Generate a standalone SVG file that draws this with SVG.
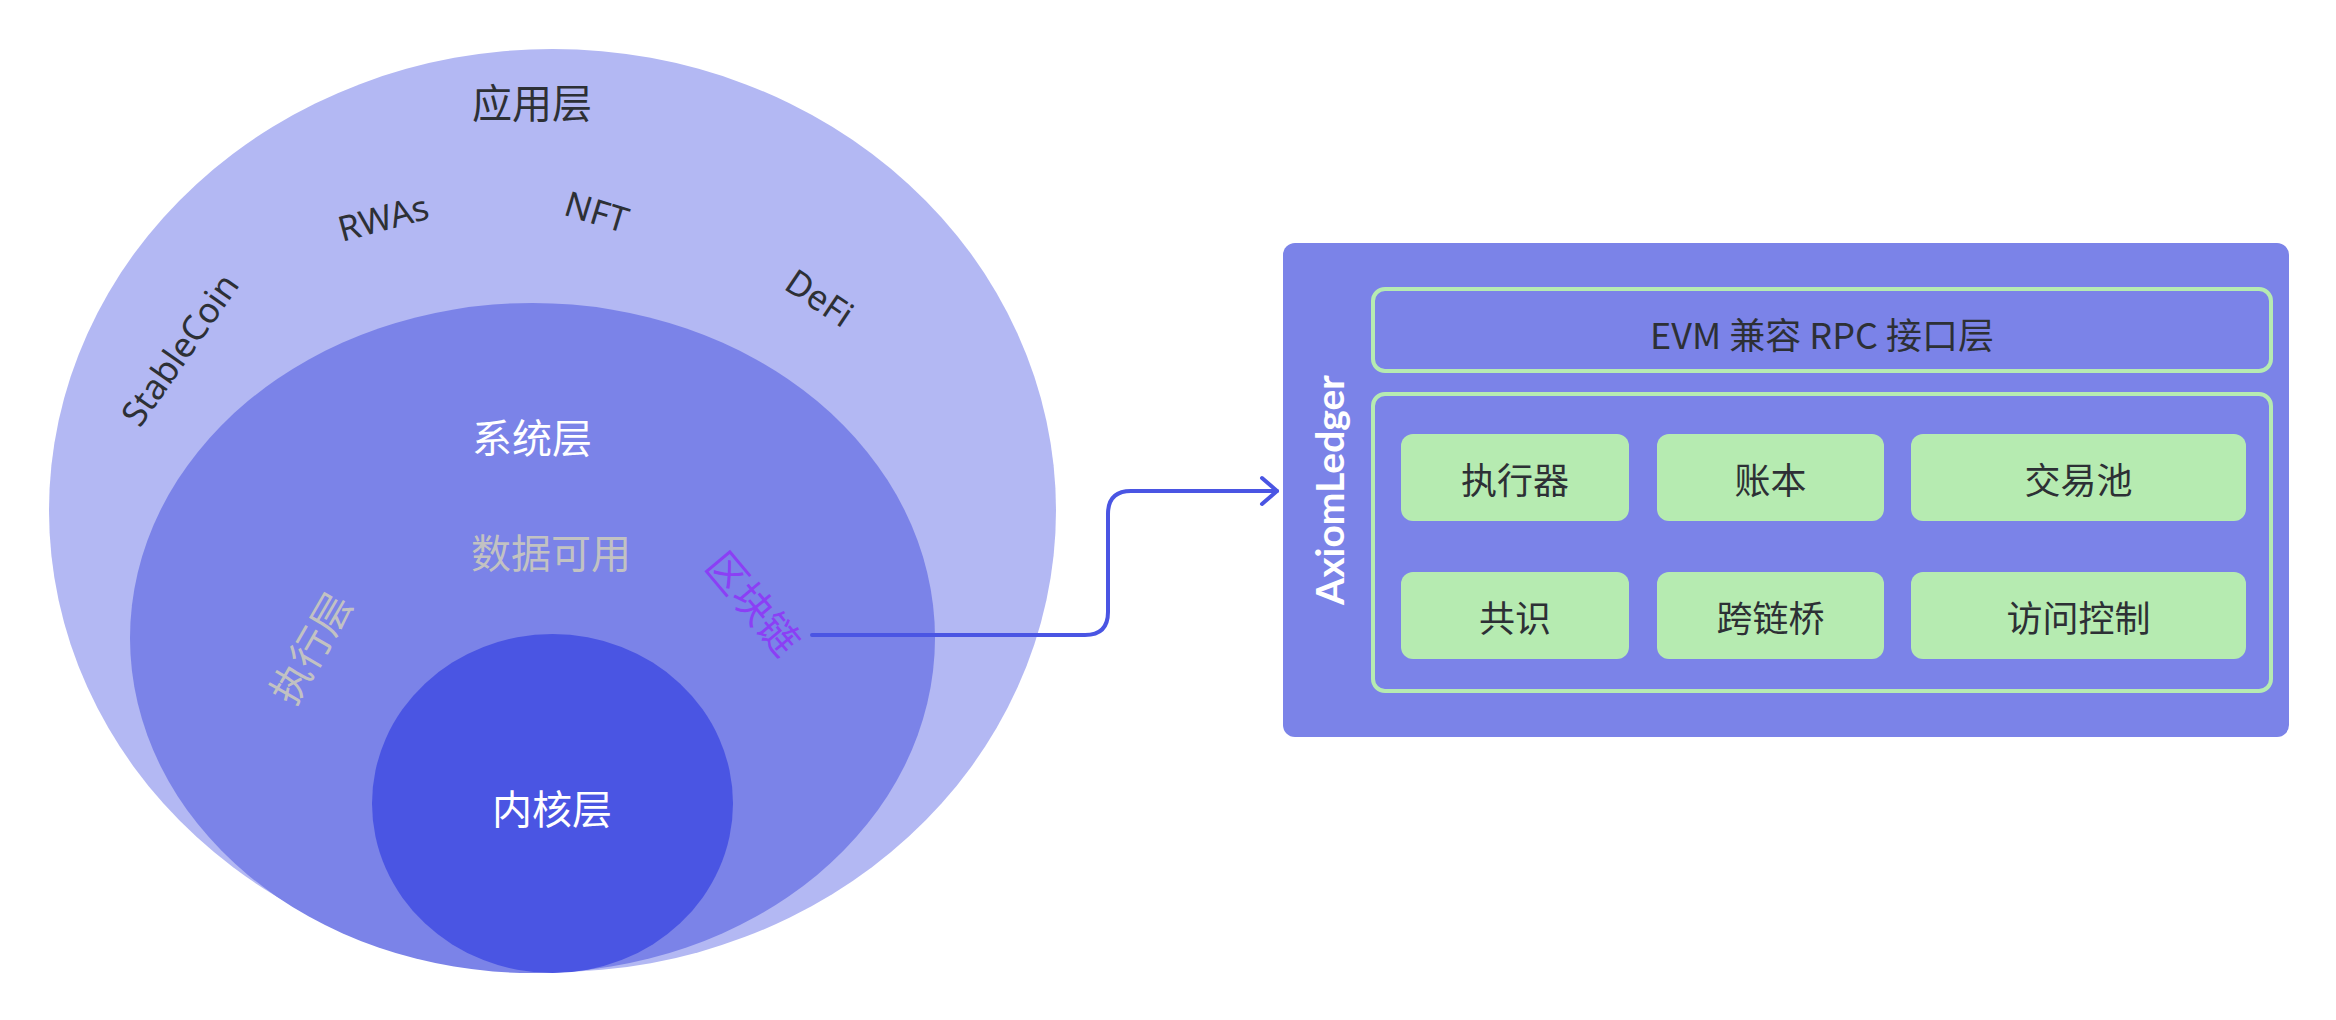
<svg xmlns="http://www.w3.org/2000/svg" width="2336" height="1020" viewBox="0 0 2336 1020">
  <style>
    .cjk { font-family: "Noto Sans CJK SC", "Noto Sans", sans-serif; text-anchor: middle; dominant-baseline: central; }
    .lat { font-family: "Noto Sans", "Noto Sans CJK SC", sans-serif; text-anchor: middle; dominant-baseline: central; font-size: 35px; fill: #2d3035; }
    .dark { fill: #2d3035; }
    .white { fill: #ffffff; }
    .gray { fill: #c2c2c2; }
    .purple { fill: #8b3ff5; }
    .big { font-size: 40px; }
    .mid { font-size: 36px; }
    .frame { fill: none; stroke: #b6ebb1; stroke-width: 4; }
    .cell { fill: #b6ebb1; }
    .conn { fill: none; stroke: #4a55e3; stroke-width: 4; stroke-linecap: round; stroke-linejoin: round; }
  </style>
  <defs>
    <marker id="arrow" markerUnits="userSpaceOnUse" markerWidth="24" markerHeight="34" viewBox="0 0 24 34" refX="20" refY="17" orient="auto">
      <path d="M5,4 L20,17 L5,30" fill="none" stroke="#4a55e3" stroke-width="4" stroke-linecap="round" stroke-linejoin="round"/>
    </marker>
  </defs>
  <rect width="2336" height="1020" fill="#ffffff"/>

  <g id="app-layer">
    <ellipse cx="552.5" cy="510.5" rx="503.5" ry="461.5" fill="#b3b8f3"/>
    <text class="cjk dark big" x="532" y="101">应用层</text>
    <text class="lat" transform="translate(179,349) rotate(-55)">StableCoin</text>
    <text class="lat" transform="translate(383,217) rotate(-15)">RWAs</text>
    <text class="lat" transform="translate(597,211) rotate(17)">NFT</text>
    <text class="lat" transform="translate(820,297) rotate(34)">DeFi</text>
  </g>

  <g id="system-layer">
    <ellipse cx="532.5" cy="638" rx="402.5" ry="335" fill="#7b83e8"/>
    <text class="cjk white big" x="532" y="436">系统层</text>
    <text class="cjk gray big" x="551" y="551">数据可用</text>
    <text class="cjk gray big" transform="translate(309,647) rotate(-60)">执行层</text>
    <text class="cjk purple big" transform="translate(755,602) rotate(50)">区块链</text>
  </g>

  <g id="core-layer">
    <ellipse cx="552.5" cy="803.5" rx="180.5" ry="169.5" fill="#4a55e3"/>
    <text class="cjk white big" x="552" y="807">内核层</text>
  </g>

  <g id="connectors">
    <path class="conn" d="M812,635 H1085 Q1108,635 1108,612 V514 Q1108,491 1131,491 H1277" marker-end="url(#arrow)"/>
  </g>

  <g id="axiomledger">
    <rect x="1283" y="243" width="1006" height="494" rx="12" fill="#7b83e8"/>
    <text x="1329" y="490" transform="rotate(-90 1329 490)" font-family="Lato, 'Open Sans', sans-serif" font-weight="bold" font-size="39" fill="#ffffff" text-anchor="middle" dominant-baseline="central">AxiomLedger</text>
  </g>

  <g id="rpc-layer">
    <rect class="frame" x="1373" y="289" width="898" height="82" rx="12"/>
    <text class="cjk dark mid" x="1822" y="333">EVM 兼容 RPC 接口层</text>
  </g>

  <g id="modules">
    <rect class="frame" x="1373" y="394" width="898" height="297" rx="12"/>
  </g>

  <g id="executor">
    <rect class="cell" x="1401" y="434" width="228" height="87" rx="12"/>
    <text class="cjk dark mid" x="1515" y="477.5">执行器</text>
  </g>
  <g id="ledger">
    <rect class="cell" x="1657" y="434" width="227" height="87" rx="12"/>
    <text class="cjk dark mid" x="1770.5" y="477.5">账本</text>
  </g>
  <g id="txpool">
    <rect class="cell" x="1911" y="434" width="335" height="87" rx="12"/>
    <text class="cjk dark mid" x="2078.5" y="477.5">交易池</text>
  </g>
  <g id="consensus">
    <rect class="cell" x="1401" y="572" width="228" height="87" rx="12"/>
    <text class="cjk dark mid" x="1515" y="615.5">共识</text>
  </g>
  <g id="bridge">
    <rect class="cell" x="1657" y="572" width="227" height="87" rx="12"/>
    <text class="cjk dark mid" x="1770.5" y="615.5">跨链桥</text>
  </g>
  <g id="access-control">
    <rect class="cell" x="1911" y="572" width="335" height="87" rx="12"/>
    <text class="cjk dark mid" x="2078.5" y="615.5">访问控制</text>
  </g>
</svg>
